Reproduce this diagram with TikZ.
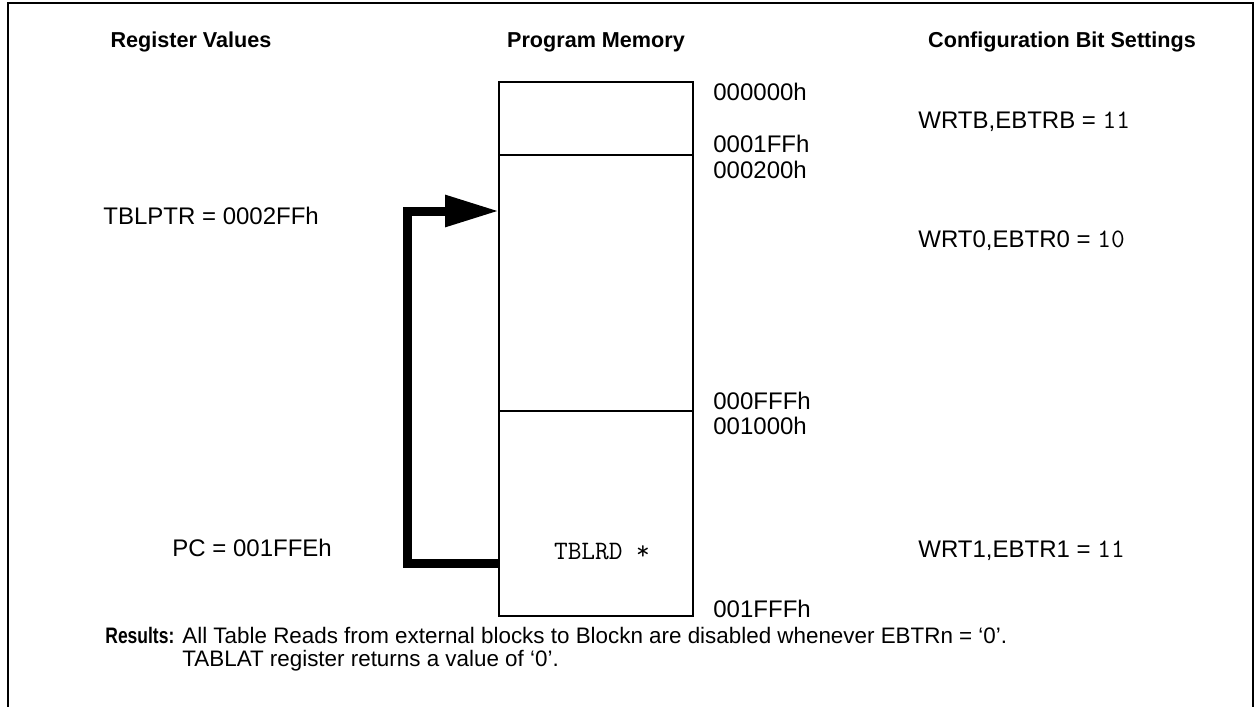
\documentclass[tikz,border=0pt]{standalone}
\usepackage{fontspec}
\setmainfont{Liberation Sans}
\newfontfamily\estreita[FakeStretch=0.78]{Liberation Sans}
\usepackage{tikz}
\usetikzlibrary{arrows.meta,positioning}

\begin{document}
\begin{tikzpicture}[
    x=0.5pt, y=-0.5pt,
    node distance=0pt,
    bloco/.style={draw, line width=1pt, minimum width=97pt, inner sep=0pt, outer sep=0pt},
    titulo/.style={font=\fontsize{10.8}{13}\selectfont\bfseries, anchor=base, inner sep=0pt},
    texto/.style={font=\fontsize{12}{14}\selectfont, anchor=base west, inner sep=0pt},
    codigo/.style={font=\fontsize{13.3}{15}\selectfont\ttfamily, anchor=base, inner sep=0pt},
    nota/.style={font=\fontsize{11.2}{13}\selectfont, anchor=base west, inner sep=0pt},
    seta/.style={-{Triangle[length=27pt, width=15pt]}, line width=4.5pt}
  ]
    \useasboundingbox (0,0) rectangle (1255,707);
    \draw[line width=1.25pt] (8,707) -- (8,3) -- (1253,3) -- (1253,707);
    % column titles
    \node[titulo] (treg) at (191,47) {Register Values};
    \node[titulo] (tmem) at (596,47) {Program Memory};
    \node[titulo] (tcfg) at (1062,47) {Configuration Bit Settings};
    % program memory blocks
    \node[bloco, minimum height=36.5pt, anchor=north west] (boot) at (499,82) {};
    \node[bloco, minimum height=128pt, below=of boot] (blk0) {};
    \node[bloco, minimum height=102.5pt, below=of blk0] (blk1) {};
    \node[codigo] (rd) at (602,559) {TBLRD *};
    % addresses
    \node[texto] (a0) at (713,100) {000000h};
    \node[texto] (a1) at (713,152) {0001FFh};
    \node[texto] (a2) at (713,178) {000200h};
    \node[texto] (a3) at (713,409) {000FFFh};
    \node[texto] (a4) at (713,434) {001000h};
    \node[texto] (a5) at (713,617) {001FFFh};
    % register values
    \node[texto] (ptr) at (103,224) {TBLPTR = 0002FFh};
    \node[texto] (pc) at (172,556) {PC = 001FFEh};
    % configuration bits
    \node[texto] (cb) at (918,128) {WRTB,EBTRB = {\fontsize{13.3}{15}\selectfont\ttfamily 11}};
    \node[texto] (c0) at (918,247) {WRT0,EBTR0 = {\fontsize{13.3}{15}\selectfont\ttfamily 10}};
    \node[texto] (c1) at (918,557) {WRT1,EBTR1 = {\fontsize{13.3}{15}\selectfont\ttfamily 11}};
    % table read
    \coordinate (orig) at (499,563);
    \coordinate (dest) at (499,211);
    \draw[seta] (orig) -- (407,563) |- (dest);
    % results
    \node[nota] (res) at (105,643) {\estreita\bfseries Results:};
    \node[nota] (n1) at (182,643) {All Table Reads from external blocks to Blockn are disabled whenever EBTRn = ‘0’.};
    \node[nota] (n2) at (182,666) {TABLAT register returns a value of ‘0’.};
  \end{tikzpicture}
\end{document}
